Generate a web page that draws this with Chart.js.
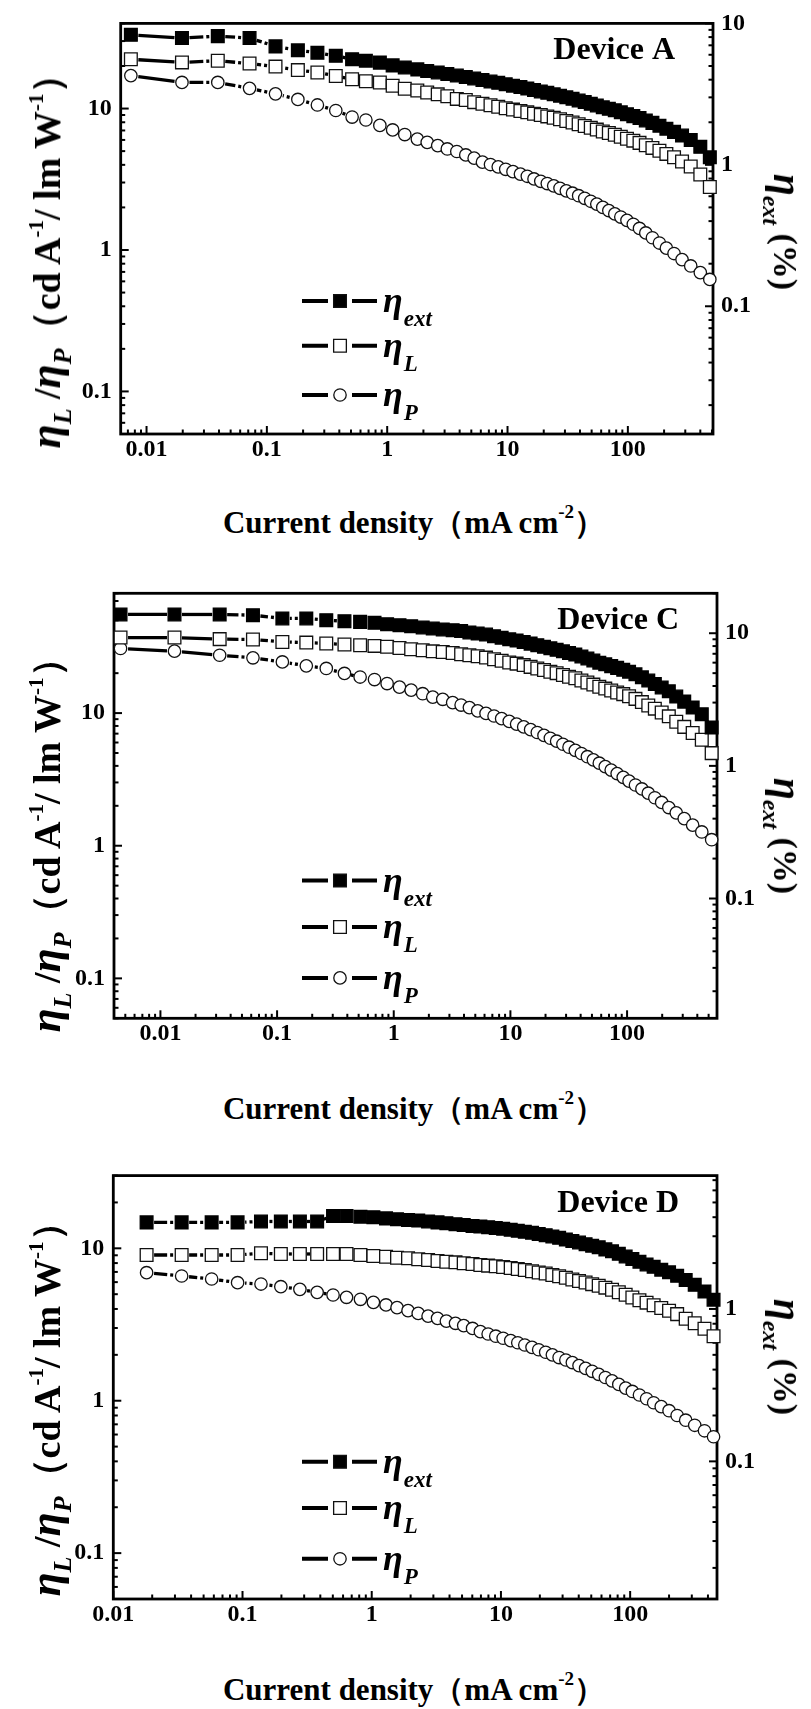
<!DOCTYPE html>
<html>
<head>
<meta charset="utf-8">
<script src="https://cdn.jsdelivr.net/npm/chart.js@4.4.1/dist/chart.umd.min.js"></script>
<style>
  html, body { margin: 0; padding: 0; background: #fff; }
  #page { position: relative; width: 811px; height: 1709px; overflow: hidden; background: #fff;
          font-family: "Liberation Serif", "Times New Roman", serif; font-weight: bold; color: #000; }
  canvas { position: absolute; left: 0; }
  .xt { position: absolute; left: 414px; transform: translate(-50%, -50%); font-size: 31px; white-space: nowrap; line-height: 1; }
  .xt .sp { font-size: 19px; position: relative; top: -0.8em; }
  .yt { position: absolute; transform: translate(-50%, -50%) rotate(-90deg); font-size: 38px; white-space: nowrap; line-height: 1; }
  .yt .eta { font-style: italic; font-size: 44px; }
  .yt .sb { font-style: italic; font-size: 26px; position: relative; top: 0.42em; }
  .yt .sp { font-size: 21px; position: relative; top: -0.8em; }
  .rt { position: absolute; transform: translate(-50%, -50%) rotate(90deg); font-size: 34px; white-space: nowrap; line-height: 1; }
  .rt .eta { font-style: italic; font-size: 40px; }
  .rt .sb { font-style: italic; font-size: 24px; position: relative; top: 0.45em; }
</style>
</head>
<body>
<div id="page">
  <canvas id="cA"></canvas>
  <canvas id="cC"></canvas>
  <canvas id="cD"></canvas>

  <div class="yt" style="left:46px;top:252px"><span class="eta">η</span><span class="sb">L</span> /<span class="eta">η</span><span class="sb">P</span>（cd A<span class="sp">-1</span>/ lm W<span class="sp">-1</span>）</div>
  <div class="rt" style="left:787px;top:232px"><span class="eta">η</span><span class="sb">ext</span> (%)</div>
  <div class="xt" style="top:522px">Current density（mA cm<span class="sp">-2</span>）</div>

  <div class="yt" style="left:46px;top:836px"><span class="eta">η</span><span class="sb">L</span> /<span class="eta">η</span><span class="sb">P</span>（cd A<span class="sp">-1</span>/ lm W<span class="sp">-1</span>）</div>
  <div class="rt" style="left:787px;top:836px"><span class="eta">η</span><span class="sb">ext</span> (%)</div>
  <div class="xt" style="top:1108px">Current density（mA cm<span class="sp">-2</span>）</div>

  <div class="yt" style="left:46px;top:1400px"><span class="eta">η</span><span class="sb">L</span> /<span class="eta">η</span><span class="sb">P</span>（cd A<span class="sp">-1</span>/ lm W<span class="sp">-1</span>）</div>
  <div class="rt" style="left:787px;top:1357px"><span class="eta">η</span><span class="sb">ext</span> (%)</div>
  <div class="xt" style="top:1689px">Current density（mA cm<span class="sp">-2</span>）</div>
</div>

<script>
// ---- Device A: current density (mA cm^-2), η_ext (%), η_L (cd/A), η_P (lm/W)
const jA = [0.00741, 0.0197, 0.0391, 0.0718, 0.118, 0.181, 0.263, 0.374, 0.511, 0.665,
            0.869, 1.11, 1.40, 1.78, 2.15, 2.63, 3.16, 3.79, 4.50, 5.28,
            6.19, 7.22, 8.37, 9.66, 11.1, 12.8, 14.6, 16.6, 18.9, 21.4,
            24.2, 27.3, 30.8, 34.7, 39.0, 43.8, 49.2, 55.2, 61.9, 69.5,
            77.9, 87.4, 98.3, 111, 125, 141, 160, 183, 209, 242,
            282, 333, 400, 480];
const extA = [8.30, 7.88, 8.13, 7.88, 6.88, 6.45, 6.20, 5.90, 5.58, 5.45,
              5.28, 5.05, 4.88, 4.73, 4.60, 4.50, 4.38, 4.28, 4.18, 4.08,
              3.98, 3.88, 3.80, 3.71, 3.63, 3.55, 3.46, 3.38, 3.30, 3.23,
              3.15, 3.08, 3.00, 2.93, 2.85, 2.78, 2.70, 2.63, 2.55, 2.49,
              2.43, 2.35, 2.28, 2.21, 2.14, 2.06, 1.98, 1.89, 1.80, 1.71,
              1.61, 1.50, 1.34, 1.13];
const lumA = [22.3, 21.2, 21.8, 20.8, 19.8, 18.7, 18.0, 17.0, 16.1, 15.6,
              15.3, 14.5, 13.8, 13.4, 13.0, 12.6, 12.2, 11.7, 11.5, 11.1,
              10.8, 10.55, 10.3, 10.05, 9.83, 9.62, 9.40, 9.20, 9.00, 8.80,
              8.60, 8.39, 8.17, 7.96, 7.74, 7.53, 7.31, 7.10, 6.89, 6.71,
              6.53, 6.32, 6.11, 5.93, 5.72, 5.51, 5.27, 5.03, 4.78, 4.52,
              4.22, 3.89, 3.42, 2.79];
const powA = [17.1, 15.3, 15.3, 13.9, 12.7, 11.6, 10.6, 9.69, 8.71, 8.30,
              7.60, 7.06, 6.55, 6.08, 5.77, 5.47, 5.18, 4.97, 4.70, 4.46,
              4.18, 4.02, 3.87, 3.72, 3.58, 3.44, 3.32, 3.18, 3.06, 2.95,
              2.84, 2.73, 2.62, 2.52, 2.42, 2.32, 2.21, 2.11, 2.00, 1.90,
              1.80, 1.71, 1.62, 1.52, 1.42, 1.32, 1.22, 1.12, 1.03, 0.944,
              0.855, 0.771, 0.692, 0.619];

// ---- Device C
const jC = [0.00455, 0.0132, 0.0322, 0.0621, 0.111, 0.178, 0.264, 0.378, 0.515, 0.684,
            0.877, 1.12, 1.41, 1.77, 2.16, 2.63, 3.20, 3.78, 4.45, 5.24,
            6.18, 7.24, 8.41, 9.77, 11.3, 13.0, 14.9, 17.0, 19.4, 22.0,
            24.9, 28.2, 31.8, 36.0, 40.6, 45.7, 51.4, 57.8, 65.0, 73.1,
            82.2, 92.7, 104, 118, 134, 152, 173, 198, 228, 264,
            309, 365, 437, 531];
const extC = [13.85, 13.85, 13.85, 13.68, 12.93, 12.93, 12.55, 12.33, 12.18, 11.98,
              11.70, 11.50, 11.30, 11.05, 10.85, 10.68, 10.55, 10.38, 10.13, 9.95,
              9.78, 9.50, 9.25, 9.00, 8.80, 8.58, 8.35, 8.13, 7.90, 7.70,
              7.50, 7.30, 7.10, 6.90, 6.68, 6.45, 6.23, 6.00, 5.83, 5.65,
              5.48, 5.30, 5.13, 4.90, 4.65, 4.40, 4.15, 3.90, 3.65, 3.33,
              3.05, 2.75, 2.45, 1.95];
const lumC = [37.1, 37.1, 36.1, 35.9, 34.4, 34.0, 33.5, 32.9, 32.5, 32.1,
              31.6, 31.0, 30.3, 29.8, 29.2, 28.9, 28.4, 27.8, 27.3, 26.8,
              26.2, 25.5, 24.8, 24.1, 23.6, 23.0, 22.3, 21.7, 21.1, 20.5,
              20.0, 19.4, 18.8, 18.3, 17.6, 17.0, 16.4, 15.8, 15.3, 14.8,
              14.3, 13.9, 13.4, 12.8, 12.1, 11.4, 10.8, 10.1, 9.45, 8.60,
              7.87, 7.08, 6.29, 4.99];
const powC = [30.7, 29.3, 27.3, 26.1, 24.3, 22.7, 21.7, 19.9, 18.7, 17.9,
              16.7, 15.7, 14.9, 14.0, 13.2, 12.7, 12.0, 11.5, 11.0, 10.4,
              9.95, 9.51, 9.08, 8.66, 8.26, 7.87, 7.50, 7.14, 6.79, 6.46,
              6.14, 5.82, 5.53, 5.24, 4.96, 4.69, 4.44, 4.19, 3.95, 3.72,
              3.50, 3.28, 3.07, 2.87, 2.68, 2.49, 2.30, 2.12, 1.94, 1.77,
              1.60, 1.43, 1.27, 1.11];

// ---- Device D
const jD = [0.0181, 0.0338, 0.0577, 0.0916, 0.139, 0.198, 0.278, 0.378, 0.502, 0.638,
            0.818, 1.03, 1.29, 1.57, 1.91, 2.29, 2.73, 3.23, 3.78, 4.45,
            5.15, 6.03, 6.93, 7.96, 9.12, 10.4, 11.9, 13.5, 15.3, 17.4,
            19.6, 22.2, 25.0, 28.2, 31.8, 35.7, 40.2, 45.2, 50.8, 57.1,
            64.3, 72.4, 81.7, 92.3, 104, 118, 134, 152, 174, 200,
            231, 269, 316, 376, 442];
const extD = [3.70, 3.70, 3.70, 3.70, 3.75, 3.75, 3.75, 3.75, 4.08, 4.08,
              4.03, 4.00, 3.93, 3.88, 3.83, 3.80, 3.75, 3.70, 3.65, 3.60,
              3.55, 3.50, 3.48, 3.44, 3.40, 3.36, 3.31, 3.26, 3.21, 3.16,
              3.10, 3.05, 2.99, 2.93, 2.86, 2.79, 2.73, 2.66, 2.60, 2.54,
              2.46, 2.39, 2.30, 2.21, 2.13, 2.04, 1.96, 1.89, 1.81, 1.74,
              1.65, 1.55, 1.44, 1.30, 1.15];
const lumD = [9.04, 9.04, 9.04, 9.04, 9.27, 9.18, 9.18, 9.18, 9.18, 9.18,
              9.04, 8.90, 8.81, 8.68, 8.60, 8.47, 8.38, 8.26, 8.17, 8.09,
              7.97, 7.89, 7.77, 7.70, 7.62, 7.53, 7.42, 7.31, 7.20, 7.08,
              6.94, 6.83, 6.69, 6.55, 6.41, 6.24, 6.10, 5.96, 5.82, 5.68,
              5.52, 5.35, 5.15, 4.96, 4.76, 4.56, 4.40, 4.23, 4.06, 3.89,
              3.70, 3.45, 3.22, 2.97, 2.65];
const powD = [6.92, 6.58, 6.29, 5.95, 5.83, 5.60, 5.38, 5.14, 4.94, 4.77,
              4.63, 4.42, 4.25, 4.08, 3.90, 3.74, 3.59, 3.47, 3.33, 3.22,
              3.11, 2.98, 2.84, 2.74, 2.65, 2.57, 2.48, 2.40, 2.32, 2.24,
              2.16, 2.08, 2.00, 1.92, 1.85, 1.78, 1.70, 1.63, 1.56, 1.49,
              1.42, 1.35, 1.28, 1.21, 1.15, 1.09, 1.03, 0.970, 0.915, 0.860,
              0.800, 0.745, 0.690, 0.635, 0.580];

// ---- tick labels
const xTickValues = [0.01, 0.1, 1, 10, 100];
const xTickLabels = ['0.01', '0.1', '1', '10', '100'];
const leftTickValues = [0.1, 1, 10];
const leftTickLabels = ['0.1', '1', '10'];
const rightTickValuesAC = [0.1, 1, 10];
const rightTickLabelsAC = ['0.1', '1', '10'];
const rightTickValuesD = [0.1, 1];
const rightTickLabelsD = ['0.1', '1'];

// ---- panel layout (canvas placement and plot-area edges, page pixels)
const panels = [
  { id: 'cA', name: 'Device A', top: 0, height: 470,
    area: { left: 120.7, right: 713, top: 20, bottom: 434 },
    xRange: [0.0061, 510], leftRange: [0.05, 40], rightRange: [0.0125, 10],
    rTicks: rightTickValuesAC, rLabels: rightTickLabelsAC,
    j: jA, ext: extA, lum: lumA, pow: powA },
  { id: 'cC', name: 'Device C', top: 560, height: 500,
    area: { left: 114, right: 717, top: 593.3, bottom: 1018.3 },
    xRange: [0.004, 590], leftRange: [0.05, 80], rightRange: [0.0125, 20],
    rTicks: rightTickValuesAC, rLabels: rightTickLabelsAC,
    j: jC, ext: extC, lum: lumC, pow: powC },
  { id: 'cD', name: 'Device D', top: 1140, height: 500,
    area: { left: 113.3, right: 717, top: 1175.6, bottom: 1599 },
    xRange: [0.01, 470], leftRange: [0.05, 30], rightRange: [0.0125, 7.5],
    rTicks: rightTickValuesD, rLabels: rightTickLabelsD,
    j: jD, ext: extD, lum: lumD, pow: powD }
];

const SERIF = '"Liberation Serif", "Times New Roman", serif';
const tickFont = { family: SERIF, weight: 'bold', size: 24 };
const SQ = 9;     // square symbol radius
const CI = 6.2;   // circle symbol radius

// dash-dot connector that restarts on every segment and stays clear of the symbols
function segmentDash(c) {
  const d = Math.hypot(c.p1.x - c.p0.x, c.p1.y - c.p0.y);
  const r = 6.5;
  const L = d - 2 * r;
  if (L < 3) return [0, 10000];
  if (L < 10) return [0, r + L / 2 - 1.5, 3, 10000];
  if (L < 30) return [0, r + 1, L - 9, 3, 3, 10000];
  return [0, r + 1, L - 2, 10000];
}

function labelFor(values, labels) {
  return (v) => {
    const i = values.findIndex(t => Math.abs(t - v) < t * 1e-6);
    return i >= 0 ? labels[i] : '';
  };
}

function drawTickMarks(ctx, scale, side, a) {
  const lo = scale.min, hi = scale.max;
  for (let e = Math.floor(Math.log10(lo)) - 1; e <= Math.ceil(Math.log10(hi)); e++) {
    for (let k = 1; k <= 9; k++) {
      const v = k * Math.pow(10, e);
      if (v < lo * 0.999 || v > hi * 1.001) continue;
      const len = k === 1 ? 8 : 4.5;
      const p = scale.getPixelForValue(v);
      ctx.beginPath();
      if (side === 'bottom') { ctx.moveTo(p, a.bottom); ctx.lineTo(p, a.bottom - len); }
      if (side === 'left')   { ctx.moveTo(a.left, p);   ctx.lineTo(a.left + len, p); }
      if (side === 'right')  { ctx.moveTo(a.right, p);  ctx.lineTo(a.right - len, p); }
      ctx.stroke();
    }
  }
}

const legendRows = [
  { style: 'rect',   radius: SQ, fill: '#000', sub: 'ext', at: 0.676 },
  { style: 'rect',   radius: SQ, fill: '#fff', sub: 'L',   at: 0.785 },
  { style: 'circle', radius: CI, fill: '#fff', sub: 'P',   at: 0.905 }
];

function panelPlugin(cfg) {
  return {
    id: 'panelDecor',
    beforeDatasetsDraw(chart) {
      const { ctx, chartArea: a, scales } = chart;
      ctx.save();
      ctx.strokeStyle = '#000';
      ctx.lineCap = 'butt';
      ctx.lineWidth = 2;
      drawTickMarks(ctx, scales.x, 'bottom', a);
      drawTickMarks(ctx, scales.yL, 'left', a);
      drawTickMarks(ctx, scales.yR, 'right', a);
      ctx.lineWidth = 2.8;
      ctx.strokeRect(a.left, a.top, a.right - a.left, a.bottom - a.top);
      ctx.restore();
    },
    afterDraw(chart) {
      const { ctx, chartArea: a } = chart;
      ctx.save();
      // device name
      ctx.fillStyle = '#000';
      ctx.font = 'bold 32px ' + SERIF;
      ctx.textAlign = 'right';
      ctx.textBaseline = 'alphabetic';
      ctx.fillText(cfg.name, a.right - 38, a.top + 36);
      // legend
      ctx.textAlign = 'left';
      legendRows.forEach(row => {
        const y = a.top + row.at * (a.bottom - a.top);
        ctx.strokeStyle = '#000';
        ctx.lineWidth = 4;
        ctx.beginPath();
        ctx.moveTo(302, y); ctx.lineTo(328, y);
        ctx.moveTo(352, y); ctx.lineTo(377, y);
        ctx.stroke();
        ctx.fillStyle = row.fill;
        ctx.strokeStyle = '#111';
        ctx.lineWidth = 1.3;
        Chart.helpers.drawPoint(ctx, { pointStyle: row.style, radius: row.radius, borderWidth: 1.3, rotation: 0 }, 340, y);
        ctx.fillStyle = '#000';
        ctx.font = 'italic bold 36px ' + SERIF;
        ctx.fillText('η', 383, y + 11);
        const w = ctx.measureText('η').width;
        ctx.font = 'italic bold 23px ' + SERIF;
        ctx.fillText(row.sub, 383 + w + 1, y + 25);
      });
      ctx.restore();
    }
  };
}

function buildPanel(cfg) {
  const canvas = document.getElementById(cfg.id);
  canvas.width = 811;
  canvas.height = cfg.height;
  canvas.style.top = cfg.top + 'px';
  canvas.style.width = '811px';
  canvas.style.height = cfg.height + 'px';
  const a = cfg.area;
  const pairs = (xs, ys) => xs.map((x, i) => ({ x: x, y: ys[i] }));
  const seg = {
    borderDash: segmentDash,
    borderDashOffset: c => (c.p0DataIndex % 2 ? 0.01 : 0)
  };
  const common = { borderColor: '#000', borderWidth: 3.3, borderCapStyle: 'butt', showLine: true,
                   pointBorderWidth: 1.3, pointHoverRadius: 0, segment: seg, clip: false };

  new Chart(canvas, {
    type: 'line',
    data: {
      datasets: [
        Object.assign({ label: 'η_ext', data: pairs(cfg.j, cfg.ext), yAxisID: 'yR',
          pointStyle: 'rect', pointRadius: SQ, pointBackgroundColor: '#000', pointBorderColor: '#000' }, common),
        Object.assign({ label: 'η_L', data: pairs(cfg.j, cfg.lum), yAxisID: 'yL',
          pointStyle: 'rect', pointRadius: SQ, pointBackgroundColor: '#fff', pointBorderColor: '#111' }, common),
        Object.assign({ label: 'η_P', data: pairs(cfg.j, cfg.pow), yAxisID: 'yL',
          pointStyle: 'circle', pointRadius: CI, pointBackgroundColor: '#fff', pointBorderColor: '#111' }, common)
      ]
    },
    options: {
      responsive: false,
      animation: false,
      devicePixelRatio: 1,
      events: [],
      layout: { padding: { top: a.top - cfg.top, left: 0, right: 0, bottom: 0 } },
      plugins: { legend: { display: false }, tooltip: { enabled: false } },
      scales: {
        x: {
          type: 'logarithmic', position: 'bottom', min: cfg.xRange[0], max: cfg.xRange[1],
          grid: { display: false, drawTicks: false }, border: { display: false },
          ticks: { font: tickFont, color: '#000', padding: 1, autoSkip: false, maxRotation: 0, minRotation: 0,
                   callback: labelFor(xTickValues, xTickLabels) },
          afterBuildTicks: s => { s.ticks = xTickValues.map(v => ({ value: v })); },
          afterFit: s => { s.height = cfg.height - (a.bottom - cfg.top); }
        },
        yL: {
          type: 'logarithmic', position: 'left', min: cfg.leftRange[0], max: cfg.leftRange[1],
          grid: { display: false, drawTicks: false }, border: { display: false },
          ticks: { font: tickFont, color: '#000', padding: 9, autoSkip: false,
                   callback: labelFor(leftTickValues, leftTickLabels) },
          afterBuildTicks: s => { s.ticks = leftTickValues.map(v => ({ value: v })); },
          afterFit: s => { s.width = a.left; }
        },
        yR: {
          type: 'logarithmic', position: 'right', min: cfg.rightRange[0], max: cfg.rightRange[1],
          grid: { display: false, drawTicks: false }, border: { display: false },
          ticks: { font: tickFont, color: '#000', padding: 8, autoSkip: false,
                   callback: labelFor(cfg.rTicks, cfg.rLabels) },
          afterBuildTicks: s => { s.ticks = cfg.rTicks.map(v => ({ value: v })); },
          afterFit: s => { s.width = 811 - a.right; }
        }
      }
    },
    plugins: [panelPlugin(cfg)]
  });
}

panels.forEach(buildPanel);
</script>
</body>
</html>
